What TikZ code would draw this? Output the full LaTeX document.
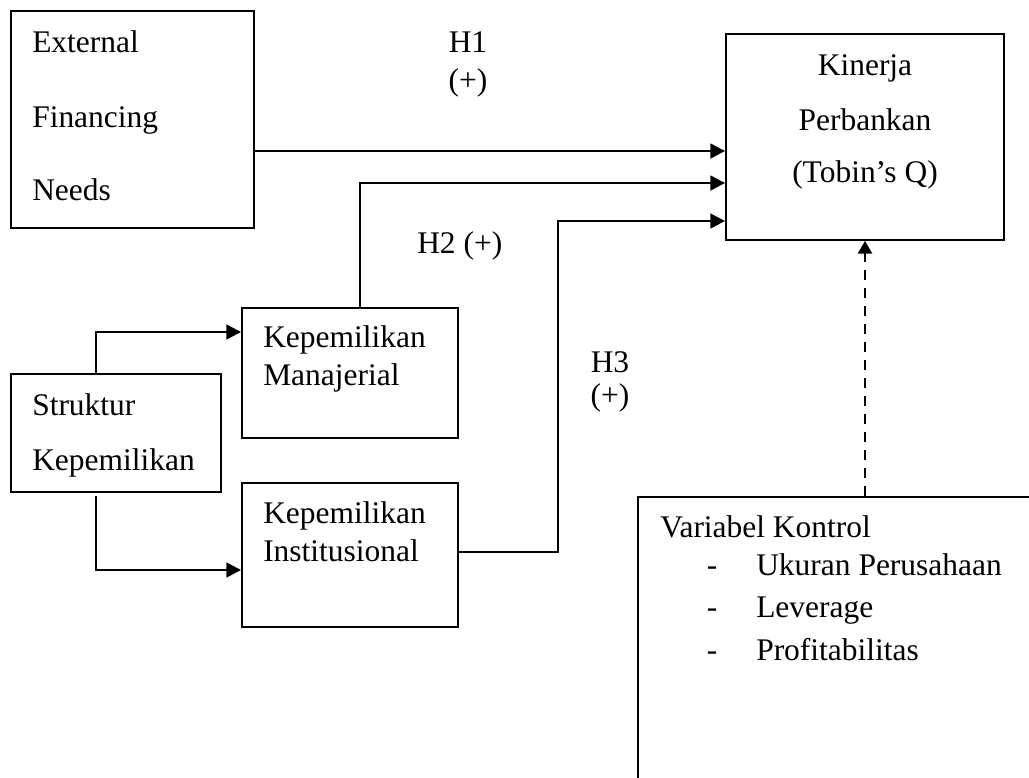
\documentclass[tikz,border=0pt]{standalone}
\usepackage{fontspec}
\setmainfont{Liberation Serif}
\usetikzlibrary{arrows.meta,calc,fit}
\begin{document}
\begin{tikzpicture}[x=0.75pt,y=-0.75pt,
  box/.style={draw, line width=1.4pt, rectangle, inner sep=0pt},
  txt/.style={anchor=base west, inner sep=0pt, font=\fontsize{23.6}{28}\selectfont},
  ctxt/.style={anchor=base, inner sep=0pt, font=\fontsize{23.6}{28}\selectfont},
  arr/.style={line width=1.8pt, -{Triangle[length=11pt,width=11pt]}},
  dasharr/.style={line width=1.8pt, dash pattern=on 7.5pt off 6pt, -{Triangle[length=9.5pt,width=10.5pt]}}
]
\useasboundingbox (0,0) rectangle (1029,778);
\clip (0,0) rectangle (1029,778);

% boxes
\node[box, fit={(11,11) (254,228)}] (ext) {};
\node[box, fit={(726,34) (1004,240)}] (kin) {};
\node[box, fit={(242,308) (458,438)}] (man) {};
\node[box, fit={(11,374) (221,492)}] (str) {};
\node[box, fit={(242,483) (458,627)}] (inst) {};
\node[box, fit={(638,497) (1045,800)}] (var) {};

% box texts
\node[txt] (ext1) at (32,52) {External};
\node[txt] (ext2) at (32,127) {Financing};
\node[txt] (ext3) at (32,200) {Needs};

\node[ctxt] (kin1) at (865,75) {Kinerja};
\node[ctxt] (kin2) at (865,130) {Perbankan};
\node[ctxt] (kin3) at (865,182) {(Tobin’s Q)};

\node[txt] (man1) at (263,347) {Kepemilikan};
\node[txt] (man2) at (263,385) {Manajerial};

\node[txt] (str1) at (32,415) {Struktur};
\node[txt] (str2) at (32,470) {Kepemilikan};

\node[txt] (inst1) at (263,523) {Kepemilikan};
\node[txt] (inst2) at (263,561) {Institusional};

\node[txt] (var0) at (660,537) {Variabel Kontrol};
\node[ctxt] (d1) at (712,575) {-};
\node[ctxt] (d2) at (712,617) {-};
\node[ctxt] (d3) at (712,660) {-};
\node[txt] (var1) at (756,575) {Ukuran Perusahaan};
\node[txt] (var2) at (756,617) {Leverage};
\node[txt] (var3) at (756,660) {Profitabilitas};

% hypothesis labels
\node[ctxt] (h1a) at (468,52) {H1};
\node[ctxt] (h1b) at (468,90) {(+)};
\node[txt] (h2l) at (417,253) {H2 (+)};
\node[ctxt] (h3l) at (610,372) {H3};
\node[ctxt] (h3p) at (610,405) {(+)};

% connectors
\coordinate (c1) at (0,151);
\draw[arr] (ext.east |- c1) -- (kin.west |- c1);

\coordinate (c2) at (360,183);
\draw[arr] (man.north -| c2) -- (c2) -- (kin.west |- c2);

\coordinate (c3a) at (558,552);
\coordinate (c3b) at (558,221);
\draw[arr] (inst.east |- c3a) -- (c3a) -- (c3b) -- (kin.west |- c3b);

\coordinate (s1) at (96,332);
\draw[arr] (str.north -| s1) -- (s1) -- (man.west |- s1);

\coordinate (s2) at (96,570);
\coordinate (s2top) at (96,496);
\draw[arr] (s2top) -- (s2) -- (inst.west |- s2);

\draw[dasharr] (kin.south |- var.north) -- (kin.south);
\end{tikzpicture}
\end{document}
